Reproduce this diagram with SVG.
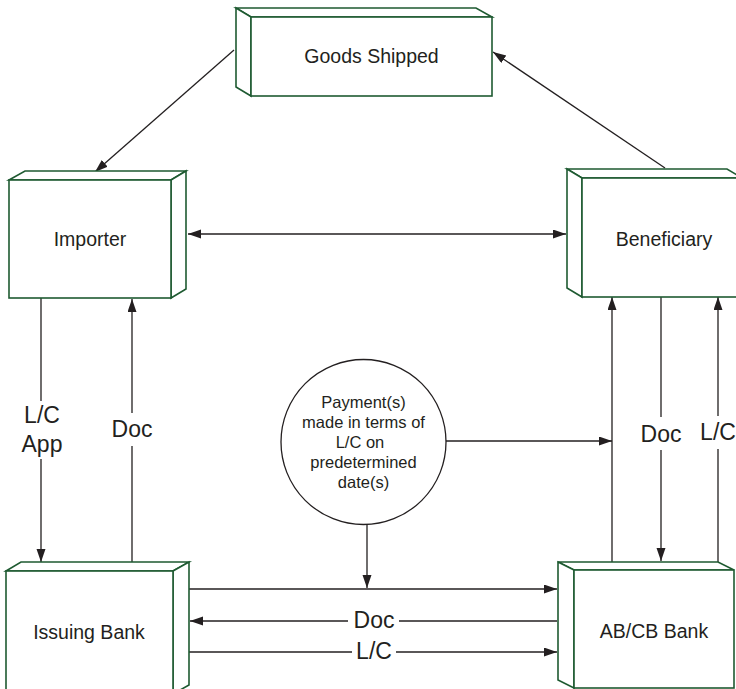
<svg xmlns="http://www.w3.org/2000/svg" width="736" height="689" viewBox="0 0 736 689">
  <style>
    .face { fill: #ffffff; stroke: #1e5a31; stroke-width: 1.6; stroke-linejoin: miter; }
    .lbl { font-family: "Liberation Sans", Arial, sans-serif; fill: #231f20; text-anchor: middle; }
    .node { font-size: 19.5px; }
    .edge { font-size: 23px; }
    .note { font-size: 16.5px; }
    .ln { fill: none; stroke: #231f20; stroke-width: 1.3; }
  </style>
  <defs>
    <marker id="arrow" markerUnits="userSpaceOnUse" markerWidth="14" markerHeight="10" refX="13" refY="4.5" orient="auto">
      <path d="M0,0 L13,4.5 L0,9 z" fill="#231f20"/>
    </marker>
  </defs>
  <rect width="736" height="689" fill="#ffffff"/>

  <!-- connectors -->
  <g id="connectors" class="ln">
    <line x1="234" y1="50" x2="95" y2="172" marker-end="url(#arrow)"/>
    <line x1="665" y1="168" x2="493" y2="52" marker-end="url(#arrow)"/>
    <line x1="376" y1="234" x2="188" y2="234" marker-end="url(#arrow)"/>
    <line x1="376" y1="234" x2="566" y2="234" marker-end="url(#arrow)"/>
    <!-- Importer / Issuing Bank -->
    <line x1="41" y1="298" x2="41" y2="401"/>
    <line x1="41" y1="459" x2="41" y2="562" marker-end="url(#arrow)"/>
    <line x1="132" y1="562" x2="132" y2="446"/>
    <line x1="132" y1="413" x2="132" y2="299" marker-end="url(#arrow)"/>
    <!-- Beneficiary / AB/CB Bank -->
    <line x1="612" y1="562" x2="612" y2="297" marker-end="url(#arrow)"/>
    <line x1="661" y1="297" x2="661" y2="417"/>
    <line x1="661" y1="450" x2="661" y2="561" marker-end="url(#arrow)"/>
    <line x1="718" y1="562" x2="718" y2="449"/>
    <line x1="718" y1="416" x2="718" y2="297" marker-end="url(#arrow)"/>
    <!-- payment note -->
    <line x1="446" y1="441" x2="612" y2="441" marker-end="url(#arrow)"/>
    <line x1="367" y1="523" x2="367" y2="588" marker-end="url(#arrow)"/>
    <!-- Issuing Bank / AB/CB Bank -->
    <line x1="189" y1="589" x2="557" y2="589" marker-end="url(#arrow)"/>
    <line x1="557" y1="621" x2="399" y2="621"/>
    <line x1="348" y1="621" x2="190" y2="621" marker-end="url(#arrow)"/>
    <line x1="189" y1="652" x2="352" y2="652"/>
    <line x1="396" y1="652" x2="557" y2="652" marker-end="url(#arrow)"/>
  </g>

  <g id="edge-labels" class="lbl edge">
    <text x="42" y="423">L/C</text>
    <text x="42" y="452">App</text>
    <text x="132" y="437">Doc</text>
    <text x="661" y="442">Doc</text>
    <text x="718" y="440">L/C</text>
    <text x="374" y="628">Doc</text>
    <text x="374" y="659">L/C</text>
  </g>

  <!-- Goods Shipped -->
  <g id="goods-shipped">
    <polygon class="face" points="236,8 476,8 492,17 251,17"/>
    <polygon class="face" points="236,8 251,17 251,96 236,87"/>
    <rect class="face" x="251" y="17" width="241" height="79"/>
    <text class="lbl node" x="371.5" y="63">Goods Shipped</text>
  </g>

  <!-- Importer -->
  <g id="importer">
    <polygon class="face" points="9,180 25,171 186,171 171,180"/>
    <polygon class="face" points="171,180 186,171 186,289 171,298"/>
    <rect class="face" x="9" y="180" width="162" height="118"/>
    <text class="lbl node" x="90" y="246">Importer</text>
  </g>

  <!-- Beneficiary -->
  <g id="beneficiary">
    <polygon class="face" points="567,169 727,169 742,178 582,178"/>
    <polygon class="face" points="567,169 582,178 582,297 567,288"/>
    <rect class="face" x="582" y="178" width="160" height="119"/>
    <text class="lbl node" x="664" y="246">Beneficiary</text>
  </g>

  <!-- Issuing Bank -->
  <g id="issuing-bank">
    <polygon class="face" points="6,571 21,562 189,562 173,571"/>
    <polygon class="face" points="173,571 189,562 189,685 173,694"/>
    <rect class="face" x="6" y="571" width="167" height="123"/>
    <text class="lbl node" x="89" y="639">Issuing Bank</text>
  </g>

  <!-- AB/CB Bank -->
  <g id="abcb-bank">
    <polygon class="face" points="558,562 718,562 734,570 574,570"/>
    <polygon class="face" points="558,562 574,570 574,688 558,680"/>
    <rect class="face" x="574" y="570" width="160" height="118"/>
    <text class="lbl node" x="654" y="638">AB/CB Bank</text>
  </g>

  <!-- Payment note -->
  <g id="payment">
    <circle cx="363.5" cy="442" r="82.5" fill="#ffffff" stroke="#231f20" stroke-width="1.3"/>
    <text class="lbl note" x="363.5" y="408">Payment(s)</text>
    <text class="lbl note" x="363.5" y="428">made in terms of</text>
    <text class="lbl note" x="360" y="448">L/C on</text>
    <text class="lbl note" x="363.5" y="468">predetermined</text>
    <text class="lbl note" x="363.5" y="488">date(s)</text>
  </g>
</svg>
